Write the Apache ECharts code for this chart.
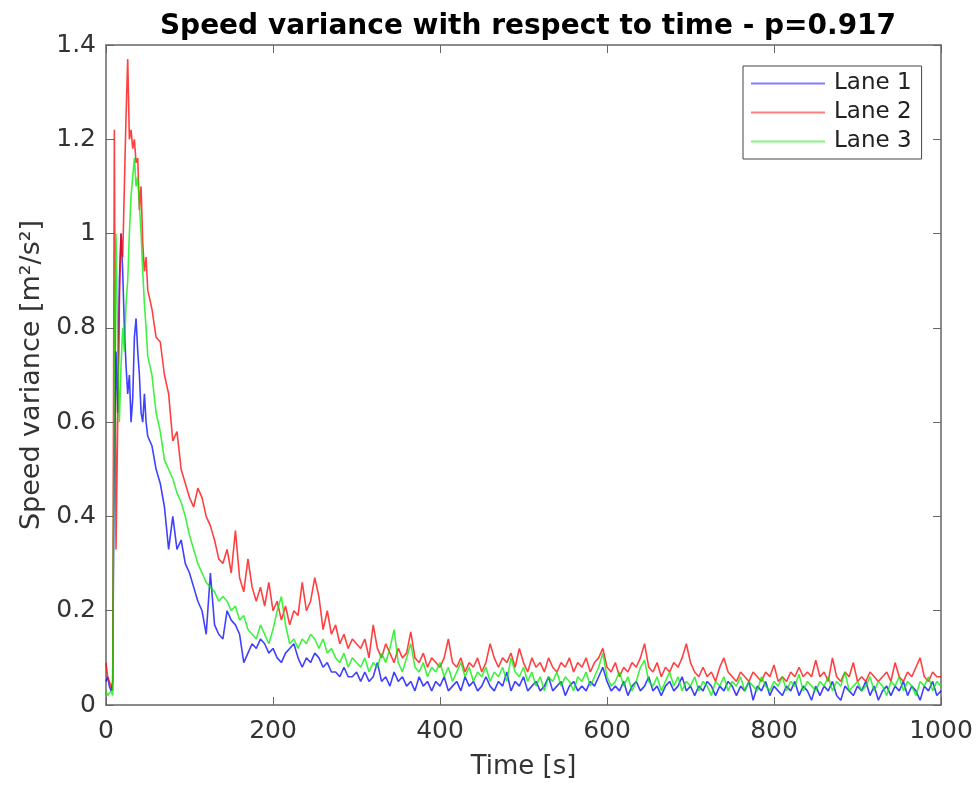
<!DOCTYPE html>
<html>
<head>
<meta charset="utf-8">
<script src="https://cdn.jsdelivr.net/npm/echarts@6/dist/echarts.min.js"></script>
<style>html,body{margin:0;padding:0;background:#fff;}#c{width:977px;height:787px;}</style>
</head>
<body>
<div id="c"></div>
<script>
// Time grid: 0..50 s every 2 s, then 55..1000 s every 5 s
const timeEarly = [0,2,4,6,8,10,12,14,16,18,20,22,24,26,28,30,32,34,36,38,40,42,44,46,48,50];
const timeLateStart = 55, timeLateStep = 5, timeLateEnd = 1000;

const xTicks = [0,200,400,600,800,1000];
const yTicks = [0,0.2,0.4,0.6,0.8,1,1.2,1.4];
const seriesNames = ['Lane 1','Lane 2','Lane 3'];

const lane1Early = [0.05,0.06,0.04,0.03,0.05,0.55,0.75,0.62,0.9,1.0,0.92,0.8,0.72,0.66,0.7,0.6,0.65,0.78,0.82,0.75,0.7,0.62,0.6,0.66,0.6,0.57];
const lane1Late = [
0.55,0.5,0.47,0.42,0.33,0.4,0.33,0.35,0.3,0.28,
0.25,0.22,0.2,0.15,0.28,0.17,0.15,0.14,0.2,0.18,
0.17,0.15,0.09,0.11,0.13,0.12,0.14,0.13,0.11,0.12,
0.1,0.09,0.11,0.12,0.13,0.1,0.08,0.1,0.09,0.11,
0.1,0.08,0.09,0.07,0.07,0.06,0.08,0.06,0.06,0.07,
0.05,0.07,0.05,0.06,0.09,0.05,0.06,0.04,0.07,0.05,
0.06,0.04,0.05,0.03,0.06,0.04,0.05,0.03,0.05,0.04,
0.06,0.03,0.04,0.05,0.03,0.06,0.04,0.05,0.03,0.04,
0.06,0.04,0.03,0.05,0.04,0.07,0.03,0.05,0.04,0.06,
0.03,0.04,0.05,0.03,0.04,0.06,0.03,0.04,0.05,0.02,
0.04,0.05,0.03,0.04,0.03,0.05,0.04,0.06,0.08,0.05,
0.03,0.04,0.03,0.05,0.02,0.04,0.05,0.03,0.04,0.06,
0.03,0.04,0.02,0.04,0.05,0.03,0.04,0.06,0.03,0.04,
0.02,0.04,0.03,0.05,0.04,0.02,0.04,0.03,0.05,0.04,
0.02,0.04,0.03,0.05,0.01,0.04,0.03,0.05,0.02,0.04,
0.03,0.02,0.04,0.03,0.05,0.02,0.04,0.03,0.01,0.04,
0.02,0.04,0.03,0.05,0.02,0.01,0.04,0.03,0.02,0.04,
0.03,0.05,0.02,0.04,0.01,0.03,0.04,0.02,0.04,0.03,
0.05,0.02,0.04,0.03,0.01,0.04,0.03,0.05,0.02,0.03];

const lane2Early = [0.09,0.06,0.05,0.04,0.03,1.22,0.33,0.6,0.85,1.0,0.95,1.1,1.25,1.37,1.2,1.22,1.18,1.2,1.15,1.16,1.05,1.1,0.98,0.92,0.95,0.88];
const lane2Late = [
0.84,0.78,0.77,0.7,0.66,0.56,0.58,0.5,0.47,0.44,
0.42,0.46,0.44,0.4,0.38,0.35,0.31,0.3,0.33,0.28,
0.37,0.27,0.24,0.31,0.25,0.22,0.25,0.21,0.26,0.2,
0.22,0.18,0.21,0.17,0.2,0.19,0.26,0.2,0.22,0.27,
0.23,0.16,0.2,0.15,0.17,0.13,0.15,0.12,0.14,0.13,
0.12,0.14,0.1,0.17,0.12,0.1,0.13,0.11,0.09,0.12,
0.1,0.11,0.155,0.1,0.09,0.11,0.08,0.1,0.09,0.08,
0.1,0.14,0.09,0.08,0.1,0.07,0.09,0.08,0.1,0.07,
0.09,0.13,0.1,0.08,0.1,0.09,0.11,0.08,0.12,0.09,
0.07,0.1,0.08,0.09,0.07,0.1,0.08,0.07,0.09,0.08,
0.1,0.07,0.09,0.08,0.1,0.07,0.09,0.1,0.12,0.08,
0.07,0.09,0.06,0.08,0.07,0.09,0.08,0.1,0.13,0.08,
0.07,0.09,0.06,0.08,0.07,0.09,0.08,0.1,0.13,0.09,
0.07,0.06,0.08,0.06,0.07,0.05,0.08,0.1,0.07,0.06,
0.05,0.07,0.06,0.05,0.07,0.06,0.05,0.07,0.06,0.085,
0.05,0.06,0.05,0.07,0.06,0.08,0.06,0.07,0.06,0.095,
0.06,0.07,0.05,0.1,0.06,0.05,0.07,0.06,0.09,0.05,
0.06,0.05,0.07,0.06,0.05,0.06,0.07,0.05,0.09,0.06,
0.05,0.07,0.06,0.08,0.1,0.06,0.05,0.07,0.06,0.06];

const lane3Early = [0.03,0.02,0.02,0.03,0.02,0.78,1.0,0.75,0.6,0.72,0.8,0.75,0.85,0.9,1.0,1.08,1.12,1.16,1.1,1.12,1.06,1.0,0.92,0.85,0.8,0.74];
const lane3Late = [
0.7,0.62,0.58,0.52,0.5,0.48,0.45,0.43,0.4,0.36,
0.33,0.3,0.28,0.26,0.25,0.24,0.22,0.23,0.22,0.2,
0.21,0.18,0.19,0.16,0.15,0.14,0.17,0.15,0.13,0.16,
0.2,0.23,0.17,0.13,0.14,0.12,0.14,0.13,0.15,0.14,
0.12,0.14,0.11,0.12,0.1,0.09,0.11,0.08,0.1,0.09,
0.08,0.1,0.07,0.09,0.08,0.11,0.09,0.12,0.16,0.09,
0.07,0.1,0.13,0.08,0.07,0.09,0.06,0.08,0.07,0.09,
0.06,0.08,0.05,0.07,0.09,0.06,0.08,0.05,0.07,0.06,
0.08,0.05,0.07,0.06,0.08,0.05,0.1,0.07,0.06,0.08,
0.05,0.07,0.04,0.06,0.03,0.06,0.05,0.07,0.04,0.06,
0.05,0.03,0.06,0.05,0.07,0.04,0.06,0.08,0.11,0.06,
0.04,0.05,0.07,0.04,0.06,0.03,0.05,0.08,0.095,0.05,
0.04,0.06,0.03,0.05,0.07,0.04,0.06,0.03,0.05,0.04,
0.06,0.03,0.05,0.04,0.02,0.05,0.04,0.06,0.03,0.05,
0.04,0.06,0.03,0.05,0.04,0.03,0.06,0.04,0.03,0.05,
0.04,0.06,0.03,0.05,0.04,0.065,0.03,0.05,0.04,0.03,
0.05,0.04,0.06,0.03,0.05,0.04,0.07,0.03,0.04,0.05,
0.03,0.04,0.06,0.03,0.05,0.04,0.02,0.05,0.04,0.06,
0.03,0.05,0.04,0.02,0.05,0.04,0.06,0.03,0.05,0.04];

const colors = ['#0000ff','#ff0000','#00ee00'];

// build time axis values
const timeLate = [];
for (let t = timeLateStart; t <= timeLateEnd; t += timeLateStep) timeLate.push(t);
const times = timeEarly.concat(timeLate);
function pair(early, late) {
  const vals = early.concat(late);
  if (vals.length !== times.length) console.error('length mismatch', vals.length, times.length);
  return times.map((t, i) => [t, vals[i]]);
}
const lanes = [pair(lane1Early, lane1Late), pair(lane2Early, lane2Late), pair(lane3Early, lane3Late)];

const FONT = 'DejaVu Sans';
const axisColor = '#666';
const labelColor = '#333';
const fmt = v => String(v);
const chart = echarts.init(document.getElementById('c'), null, {renderer: 'canvas'});
chart.setOption({
  animation: false,
  backgroundColor: '#fff',
  textStyle: {fontFamily: FONT},
  title: {
    text: 'Speed variance with respect to time - p=0.917',
    left: 523, top: 8, textAlign: 'center',
    textStyle: {fontFamily: FONT, fontWeight: 'bold', fontSize: 28, color: '#000'}
  },
  legend: {
    orient: 'vertical', left: 743, top: 66,
    data: seriesNames,
    icon: 'rect', itemWidth: 74, itemHeight: 2, itemGap: 6,
    padding: [6, 10, 6, 8],
    borderColor: '#444', borderWidth: 1, backgroundColor: '#fff',
    textStyle: {fontFamily: FONT, fontSize: 23, lineHeight: 23, color: '#222', padding: [0,0,0,4]},
    itemStyle: {opacity: 0.5}
  },
  grid: {left: 106, right: 36, top: 45, bottom: 82, containLabel: false},
  xAxis: [{
    type: 'value', min: xTicks[0], max: xTicks[xTicks.length-1], interval: 200,
    name: 'Time [s]', nameLocation: 'middle', nameGap: 49,
    nameTextStyle: {fontFamily: FONT, fontSize: 26, color: labelColor},
    axisLine: {show: true, onZero: false, lineStyle: {color: axisColor, width: 1.5}},
    axisTick: {show: true, inside: true, length: 8, lineStyle: {color: axisColor}},
    axisLabel: {fontFamily: FONT, fontSize: 25, color: labelColor, margin: 14, formatter: fmt},
    splitLine: {show: false}
  }, {
    type: 'value', position: 'top', min: xTicks[0], max: xTicks[xTicks.length-1], interval: 200,
    axisLine: {show: true, onZero: false, lineStyle: {color: axisColor, width: 1.5}},
    axisTick: {show: true, inside: true, length: 8, lineStyle: {color: axisColor}},
    axisLabel: {show: false}, splitLine: {show: false}
  }],
  yAxis: [{
    type: 'value', min: yTicks[0], max: yTicks[yTicks.length-1], interval: 0.2,
    name: 'Speed variance [m²/s²]', nameLocation: 'middle', nameGap: 61,
    nameTextStyle: {fontFamily: FONT, fontSize: 27, color: labelColor},
    axisLine: {show: true, onZero: false, lineStyle: {color: axisColor, width: 1.5}},
    axisTick: {show: true, inside: true, length: 8, lineStyle: {color: axisColor}},
    axisLabel: {fontFamily: FONT, fontSize: 25, color: labelColor, margin: 10, formatter: fmt},
    splitLine: {show: false}
  }, {
    type: 'value', position: 'right', min: yTicks[0], max: yTicks[yTicks.length-1], interval: 0.2,
    axisLine: {show: true, onZero: false, lineStyle: {color: axisColor, width: 1.5}},
    axisTick: {show: true, inside: true, length: 8, lineStyle: {color: axisColor}},
    axisLabel: {show: false}, splitLine: {show: false}
  }],
  series: lanes.map((d, i) => ({
    name: seriesNames[i], type: 'line', data: d,
    xAxisIndex: 0, yAxisIndex: 0,
    showSymbol: false, symbol: 'none',
    color: colors[i],
    lineStyle: {width: 1.6, color: colors[i], opacity: 0.75},
    z: 2 + i
  }))
});
</script>
</body>
</html>
